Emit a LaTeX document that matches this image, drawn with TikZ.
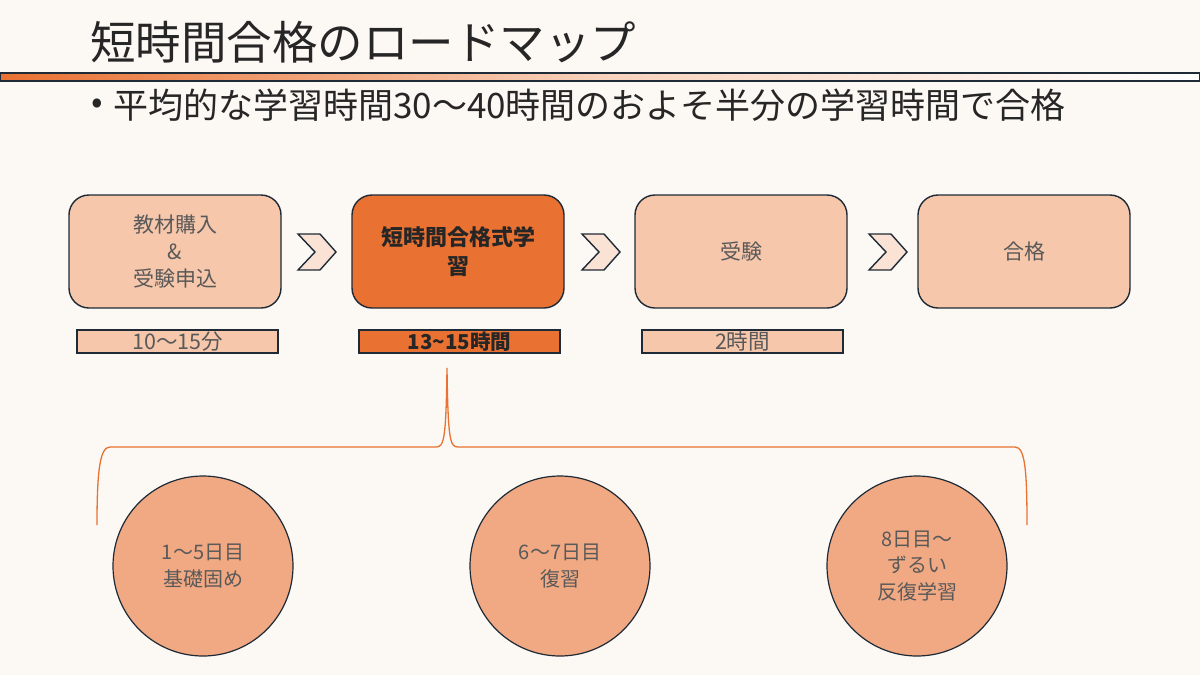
\documentclass[tikz,border=0pt]{standalone}
\usepackage{fontspec}
\setmainfont{Noto Sans CJK JP}
\usetikzlibrary{positioning}
\definecolor{bgc}{HTML}{FCF8F4}
\definecolor{lightbox}{HTML}{F6C7AB}
\definecolor{darkbox}{HTML}{E97132}
\definecolor{circfill}{HTML}{F1A983}
\definecolor{outl}{HTML}{1E2B36}
\definecolor{chevfill}{HTML}{FAE2D5}
\definecolor{graytext}{HTML}{595959}
\definecolor{bracec}{HTML}{E97132}
\tikzset{
  stepbox/.style={draw=outl, line width=1.4pt, rounded corners=20pt, minimum width=212pt, minimum height=113pt, align=center, inner sep=0pt, font=\fontsize{21}{27}\selectfont},
  lightstep/.style={stepbox, fill=lightbox, text=graytext},
  darkstep/.style={stepbox, fill=darkbox, text=black!85, font=\fontsize{22}{29}\selectfont\bfseries},
  durbar/.style={draw=outl, line width=1.4pt, minimum width=201pt, minimum height=23pt, inner sep=0pt, font=\fontsize{21.5}{22}\selectfont},
  daycirc/.style={circle, draw=outl, line width=1.2pt, fill=circfill, minimum size=180pt, inner sep=0pt, align=center, text=graytext, font=\fontsize{20}{26.5}\selectfont},
  chevshape/.style={draw=outl, line width=1.4pt, fill=chevfill, line join=miter},
  bracepath/.style={draw=bracec, line width=1.3pt}
}
\begin{document}
\begin{tikzpicture}[x=1pt,y=-1pt]
\useasboundingbox (0,0) rectangle (1200,675);
\fill[bgc] (0,0) rectangle (1200,675);

% title
\node[anchor=west, inner sep=0pt, font=\fontsize{45.5}{48}\selectfont, text=black!85] (title) at (90,42) {短時間合格のロードマップ};
\shade[left color=darkbox, right color=white, middle color=lightbox!80!white] (0,73) rectangle (1200,81);
\draw[outl, line width=1.2pt] (0,73) rectangle (1199.4,81);

% subtitle
\node[anchor=center, inner sep=0pt, font=\fontsize{34}{38}\selectfont, text=black!85] (bullet) at (97,106) {•};
\node[anchor=west, inner sep=0pt, font=\fontsize{35}{38}\selectfont, text=black!85] (sub) at (113,105) {平均的な学習時間30〜40時間のおよそ半分の学習時間で合格};

% step boxes
\node[lightstep] (s1) at (175,251.5) {教材購入\\\&\\受験申込};
\node[darkstep] (s2) at (458,251.5) {短時間合格式学\\習};
\node[lightstep] (s3) at (741,251.5) {受験};
\node[lightstep] (s4) at (1024,251.5) {合格};

% duration bars
\node[durbar, fill=lightbox, text=graytext] (d1) at (177.5,341.5) {10〜15分};
\node[durbar, fill=darkbox, text=black!85, font=\fontsize{20.5}{22}\selectfont\bfseries] (d2) at (459.5,341.5) {13\textasciitilde15時間};
\node[durbar, fill=lightbox, text=graytext] (d3) at (742.5,341.5) {2時間};

% chevrons
\foreach \cx in {298,582,869}{
  \draw[chevshape] (\cx,234) -- ++(22,0) -- ++(16,18) -- ++(-16,18) -- ++(-22,0) -- ++(17,-18) -- cycle;
}

% brace
\coordinate (btip) at (447,368);
\coordinate (bl) at (97,525);
\coordinate (br) at (1027,525);
\draw[bracepath] (bl) .. controls (97,470) and (100,447) .. (110,447) -- (436,447) .. controls (444,447) and (446,440) .. (btip)
  .. controls (448,440) and (450,447) .. (458,447) -- (1015,447) .. controls (1025,447) and (1027,470) .. (br);

% day circles
\node[daycirc] (c1) at (203,566) {1〜5日目\\基礎固め};
\node[daycirc] (c2) at (560,566) {6〜7日目\\復習};
\node[daycirc] (c3) at (917,566) {8日目〜\\ずるい\\反復学習};
\end{tikzpicture}
\end{document}
